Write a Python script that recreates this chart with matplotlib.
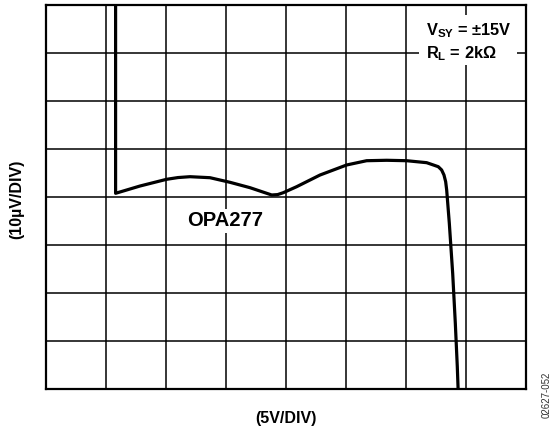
import matplotlib
matplotlib.use('Agg')
import matplotlib.pyplot as plt
from matplotlib.patches import Rectangle

plt.rcParams['font.family'] = ['Liberation Sans', 'DejaVu Sans']
plt.rcParams['mathtext.fontset'] = 'custom'
plt.rcParams['mathtext.rm'] = 'Liberation Sans:bold'
plt.rcParams['mathtext.bf'] = 'Liberation Sans:bold'
plt.rcParams['mathtext.it'] = 'Liberation Sans:bold'

######################################
# trace (divisions)
curve_x = [1.16, 1.16, 1.567, 2.011, 2.2, 2.4, 2.733, 3.067, 3.4, 3.762, 3.86, 3.955, 4.178,
           4.567, 5.011, 5.344, 5.678, 6.011, 6.344, 6.456, 6.538, 6.594, 6.633, 6.661,
           6.678, 6.722, 6.778, 6.822, 6.855, 6.872]
curve_y = [8.3, 4.077, 4.229, 4.369, 4.405, 4.423, 4.402, 4.306, 4.194, 4.042, 4.05, 4.090, 4.215,
           4.458, 4.667, 4.756, 4.765, 4.756, 4.715, 4.667, 4.631, 4.563, 4.458, 4.319,
           4.146, 3.452, 2.410, 1.369, 0.465, -0.125]

n_div_x = 8
n_div_y = 8

xlabel = '(5V/DIV)'
ylabel = '(10µV/DIV)'
part_label = 'OPA277'
cond_lines = [r'$\mathbf{V}_{\mathbf{SY}}$ = ±15V', r'$\mathbf{R}_{\mathbf{L}}$ = 2kΩ']
fig_code = '02627-052'

W, H = 556, 430
fig = plt.figure(figsize=(W / 100, H / 100), dpi=100)
ax = fig.add_axes([46 / W, (H - 389) / H, 480 / W, 384 / H])

ax.set_xlim(0, n_div_x)
ax.set_ylim(0, n_div_y)
ax.set_xticks(range(n_div_x + 1))
ax.set_yticks(range(n_div_y + 1))
ax.tick_params(length=0, labelbottom=False, labelleft=False)
ax.grid(True, color='black', lw=1.1, zorder=1)
for s in ax.spines.values():
    s.set_linewidth(1.6)
    s.set_zorder(5)

ax.plot(curve_x, curve_y, color='black', lw=2.3, zorder=4,
        solid_joinstyle='round', solid_capstyle='butt')

# white box behind the test conditions
ax.add_patch(Rectangle((6.22, 6.75), 1.63, 1.04, facecolor='white', edgecolor='none', zorder=2))
ax.text(6.333, 7.46, cond_lines[0], fontsize=11.8, fontweight='bold', ha='left', va='center', zorder=3)
ax.text(6.333, 6.98, cond_lines[1], fontsize=11.8, fontweight='bold', ha='left', va='center', zorder=3)

ax.text(2.98, 3.5, part_label, fontsize=14.5, fontweight='bold', ha='center', va='center', zorder=3,
        bbox=dict(facecolor='white', edgecolor='none', pad=1.5))

fig.text(286 / W, 1 - 418 / H, xlabel, fontsize=11.5, fontweight='bold', ha='center', va='center')
fig.text(17 / W, 1 - 199 / H, ylabel, fontsize=11.5, fontweight='bold', ha='center', va='center', rotation=90)
fig.text(547 / W, 1 - 395 / H, fig_code, fontsize=7, color='#333333', ha='center', va='center', rotation=90)

fig.savefig('out.png', dpi=100)
